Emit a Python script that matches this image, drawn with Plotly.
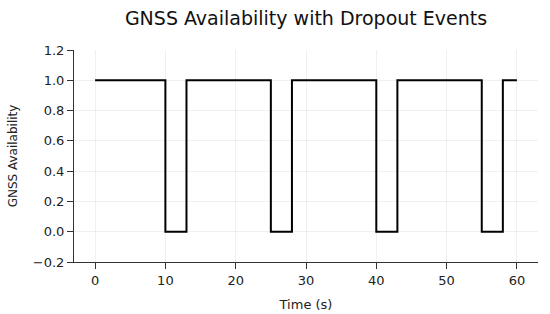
import plotly.graph_objects as go

time_s = [0, 10, 13, 25, 28, 40, 43, 55, 58, 60]
availability = [1, 0, 1, 0, 1, 0, 1, 0, 1, 1]
x_ticks = [0, 10, 20, 30, 40, 50, 60]
y_ticks = [-0.2, 0.0, 0.2, 0.4, 0.6, 0.8, 1.0, 1.2]

fig = go.Figure()
fig.add_trace(go.Scatter(
    x=time_s, y=availability, mode="lines", line_shape="hv",
    line=dict(color="black", width=2), showlegend=False,
))

axis_common = dict(
    showline=True, linecolor="#333333", linewidth=1,
    ticks="outside", ticklen=6, tickwidth=1, tickcolor="#333333",
    showgrid=True, gridcolor="rgba(0,0,0,0.06)", gridwidth=1,
    zeroline=False, mirror=False, automargin=False,
    tickfont=dict(family="DejaVu Sans", size=13, color="#222222"),
)

fig.update_layout(
    width=550, height=314,
    margin=dict(l=74, r=12, t=50, b=52),
    paper_bgcolor="white", plot_bgcolor="white",
    title=dict(text="GNSS Availability with Dropout Events",
               x=0.5564, xanchor="center", y=0.943, yanchor="middle",
               font=dict(family="DejaVu Sans", size=19, color="#111111")),
    xaxis=dict(range=[-3, 63], tickvals=x_ticks,
               title=dict(text="Time (s)", standoff=13,
                          font=dict(family="DejaVu Sans", size=13, color="#222222")),
               **axis_common),
    yaxis=dict(range=[-0.2, 1.2], tickvals=y_ticks,
               ticktext=[f"{v:.1f}".replace("-", "\u2212") for v in y_ticks],
               title=dict(text="GNSS Availability", standoff=12,
                          font=dict(family="DejaVu Sans", size=12, color="#222222")),
               **axis_common),
)

fig.write_html("out.html",
               config={"displayModeBar": False, "staticPlot": True},
               post_script="document.body.style.margin='0px';document.body.style.overflow='hidden';")
